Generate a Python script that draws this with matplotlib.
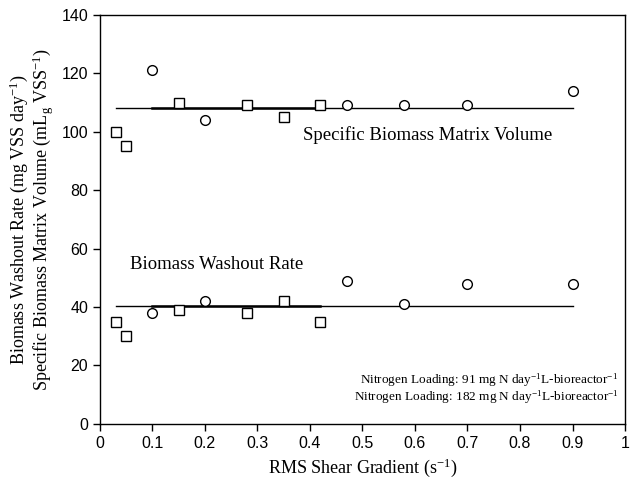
import matplotlib
matplotlib.use('Agg')
import matplotlib.pyplot as plt
import numpy as np

plt.rcParams['mathtext.fontset'] = 'custom'
plt.rcParams['mathtext.rm'] = 'Liberation Serif'
plt.rcParams['mathtext.it'] = 'Liberation Serif:italic'

# specific biomass matrix volume
vol_sq_x = [0.03, 0.05, 0.15, 0.28, 0.35, 0.42]
vol_sq_y = [100, 95, 110, 109, 105, 109]
vol_ci_x = [0.10, 0.20, 0.47, 0.58, 0.70, 0.90]
vol_ci_y = [121, 104, 109, 109, 109, 114]
vol_mean = 108

# biomass washout rate
wash_sq_x = [0.03, 0.05, 0.15, 0.28, 0.35, 0.42]
wash_sq_y = [35, 30, 39, 38, 42, 35]
wash_ci_x = [0.10, 0.20, 0.47, 0.58, 0.70, 0.90]
wash_ci_y = [38, 42, 49, 41, 48, 48]
wash_mean = 40.5

fig = plt.figure(figsize=(6.32, 4.79), dpi=100)
ax = fig.add_axes([0.158, 0.115, 0.831, 0.854])

for m, sx, cx in [(vol_mean, vol_sq_x, vol_ci_x), (wash_mean, wash_sq_x, wash_ci_x)]:
    ax.plot([min(sx), max(cx)], [m, m], color='k', lw=1.0)
    ax.plot([min(cx), max(sx)], [m, m], color='k', lw=1.8)

ax.plot(vol_sq_x, vol_sq_y, 's', mfc='white', mec='k', ms=7, mew=1)
ax.plot(vol_ci_x, vol_ci_y, 'o', mfc='white', mec='k', ms=7, mew=1)
ax.plot(wash_sq_x, wash_sq_y, 's', mfc='white', mec='k', ms=7, mew=1)
ax.plot(wash_ci_x, wash_ci_y, 'o', mfc='white', mec='k', ms=7, mew=1)

serif = 'Liberation Serif'
ax.text(0.625, 99, 'Specific Biomass Matrix Volume', family=serif, fontsize=13.5,
        ha='center', va='center')
ax.text(0.057, 54.5, 'Biomass Washout Rate', family=serif, fontsize=13.5,
        ha='left', va='center')
ax.text(0.988, 15, r'Nitrogen Loading: 91 mg N day$^{-1}$L-bioreactor$^{-1}$',
        family=serif, fontsize=9.5, ha='right', va='center')
ax.text(0.988, 9, r'Nitrogen Loading: 182 mg N day$^{-1}$L-bioreactor$^{-1}$',
        family=serif, fontsize=9.5, ha='right', va='center')

ax.set_xlim(0, 1)
ax.set_ylim(0, 140)
ax.set_xticks(np.arange(0, 1.01, 0.1))
ax.set_xticklabels(['0', '0.1', '0.2', '0.3', '0.4', '0.5', '0.6', '0.7', '0.8', '0.9', '1'])
ax.set_yticks(np.arange(0, 141, 20))
ax.tick_params(direction='out', length=5, width=1, labelsize=11.5)
for lab in ax.get_xticklabels() + ax.get_yticklabels():
    lab.set_family('Liberation Sans')
for s in ax.spines.values():
    s.set_linewidth(1)

ax.set_xlabel(r'RMS Shear Gradient (s$^{-1}$)', family=serif, fontsize=13)
ax.set_ylabel('Biomass Washout Rate (mg VSS day$^{-1}$)\n'
              'Specific Biomass Matrix Volume (mL$_{\\rm g}$ VSS$^{-1}$)',
              family=serif, fontsize=13, linespacing=1.0)

fig.savefig('out.png', dpi=100)
